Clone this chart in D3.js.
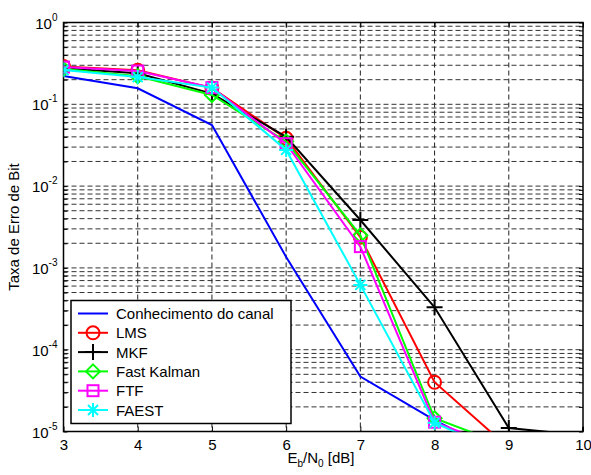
<!DOCTYPE html>
<html>
<head>
<meta charset="utf-8">
<script src="https://cdn.jsdelivr.net/npm/d3@7"></script>
<style>
  body { margin: 0; background: #fff; }
  text { font-family: "Liberation Sans", Arial, sans-serif; }
</style>
</head>
<body>
<div class="chart"></div>
<script>
const width = 591
const height = 475

// Eb/N0 in dB
const snr = [3, 4, 5, 6, 7, 8, 9, 10]

const canal = [0.222, 0.157, 0.0558, 1.36e-3, 4.7e-5, 1.38e-5, 4.7e-6, 2e-6]
const lms = [0.29, 0.26, 0.158, 0.0384, 2.37e-3, 4.0e-5, 6.3e-6, 3e-6]
const mkf = [0.275, 0.24, 0.135, 0.040, 3.85e-3, 3.3e-4, 1.1e-5, 9e-6]
const fastKalman = [0.27, 0.22, 0.13, 0.035, 2.5e-3, 1.45e-5, 6.6e-6, 3e-6]
const ftf = [0.285, 0.255, 0.16, 0.033, 1.82e-3, 1.3e-5, 5.9e-6, 3e-6]
const faest = [0.262, 0.215, 0.16, 0.0277, 6.2e-4, 1.28e-5, 5e-6, 2e-6]

const names = ["Conhecimento do canal", "LMS", "MKF", "Fast Kalman", "FTF", "FAEST"]
const colors = ["#0000ff", "#ff0000", "#000000", "#00ff00", "#ff00ff", "#00ffff"]
const markers = ["none", "circle", "plus", "diamond", "square", "star"]
const series = [canal, lms, mkf, fastKalman, ftf, faest]

const xTicks = [3, 4, 5, 6, 7, 8, 9, 10]
const yExp = [0, -1, -2, -3, -4, -5]

const margin = { top: 22.5, right: 8, left: 63.5, bottom: 43.5 }
const innerWidth = width - margin.left - margin.right
const innerHeight = height - margin.top - margin.bottom

const svg = d3.select(".chart")
    .append("svg")
    .attr("width", width)
    .attr("height", height)

const xScale = d3.scaleLinear()
    .domain([3, 10])
    .range([0, innerWidth])

const yScale = d3.scaleLog()
    .domain([1e-5, 1])
    .range([innerHeight, 0])

const g = svg.append("g")
    .attr("transform", `translate(${margin.left}, ${margin.top})`)

svg.append("defs").append("clipPath")
    .attr("id", "plot-clip")
  .append("rect")
    .attr("width", innerWidth)
    .attr("height", innerHeight)

// grid, minor y lines for every decade
let yGrid = []
for (let e = -5; e < 0; e++) {
    for (let m = 1; m < 10; m++) yGrid.push(m * Math.pow(10, e))
}

g.selectAll(".ygrid")
    .data(yGrid.filter(d => d > 1e-5))
    .enter().append("line")
        .attr("x1", 0)
        .attr("x2", innerWidth)
        .attr("y1", d => yScale(d))
        .attr("y2", d => yScale(d))
        .attr("stroke", "#333")
        .attr("stroke-width", 1)
        .attr("stroke-dasharray", "5,3")

g.selectAll(".xgrid")
    .data(xTicks.slice(1, -1))
    .enter().append("line")
        .attr("x1", d => xScale(d))
        .attr("x2", d => xScale(d))
        .attr("y1", 0)
        .attr("y2", innerHeight)
        .attr("stroke", "#222")
        .attr("stroke-width", 1)
        .attr("stroke-dasharray", "5,3")

// ticks inside box
const xAxis = d3.axisBottom(xScale).tickValues(xTicks).tickFormat(d3.format("d"))
    .tickSizeInner(-5).tickSizeOuter(0).tickPadding(8)
const xa = g.append("g")
    .attr("transform", `translate(0, ${innerHeight})`)
    .call(xAxis)
xa.select("path.domain").remove()
xa.attr("font-size", 15).attr("font-family", null)
xa.selectAll("text").attr("fill", "#000")
xa.selectAll("line").attr("stroke", "#000")

const xaTop = g.append("g").call(d3.axisTop(xScale).tickValues(xTicks).tickSizeInner(-5).tickSizeOuter(0))
xaTop.select("path.domain").remove()
xaTop.selectAll("text").remove()

const yLeft = g.append("g").call(d3.axisLeft(yScale).tickValues(yGrid.concat([1])).tickSizeInner(-4).tickSizeOuter(0))
yLeft.select("path.domain").remove()
yLeft.selectAll("text").remove()
const yRight = g.append("g").attr("transform", `translate(${innerWidth}, 0)`)
    .call(d3.axisRight(yScale).tickValues(yGrid.concat([1])).tickSizeInner(-4).tickSizeOuter(0))
yRight.select("path.domain").remove()
yRight.selectAll("text").remove()

// y tick labels 10^e
const yLab = g.selectAll(".ylab")
    .data(yExp)
    .enter().append("text")
        .attr("x", -6)
        .attr("y", d => yScale(Math.pow(10, d)) + 6)
        .attr("text-anchor", "end")
        .style("font-size", "15px")
yLab.append("tspan").text("10")
yLab.append("tspan")
    .attr("dy", -8)
    .style("font-size", "10px")
    .text(d => d)

// box
g.append("rect")
    .attr("width", innerWidth)
    .attr("height", innerHeight)
    .attr("fill", "none")
    .attr("stroke", "#000")
    .attr("stroke-width", 1.5)

// curves
const line = d3.line()
    .x((d, i) => xScale(snr[i]))
    .y(d => yScale(d))

const plot = g.append("g").attr("clip-path", "url(#plot-clip)")

function drawMarker(sel, type, color) {
    if (type === "circle") {
        sel.append("circle").attr("r", 6.5).attr("fill", "none").attr("stroke", color).attr("stroke-width", 2)
    } else if (type === "plus") {
        sel.append("path").attr("d", "M-8,0H8M0,-8V8").attr("stroke", color).attr("stroke-width", 2)
    } else if (type === "diamond") {
        sel.append("path").attr("d", "M0,-7L7,0L0,7L-7,0Z").attr("fill", "none").attr("stroke", color).attr("stroke-width", 2)
    } else if (type === "square") {
        sel.append("rect").attr("x", -5.5).attr("y", -5.5).attr("width", 11).attr("height", 11)
            .attr("fill", "none").attr("stroke", color).attr("stroke-width", 2)
    } else if (type === "star") {
        sel.append("path").attr("d", "M-7,0H7M0,-7V7M-5,-5L5,5M-5,5L5,-5").attr("stroke", color).attr("stroke-width", 2)
    }
}

series.forEach((vals, k) => {
    plot.append("path")
        .datum(vals)
        .attr("d", line)
        .attr("fill", "none")
        .attr("stroke", colors[k])
        .attr("stroke-width", 2)
    if (markers[k] !== "none") {
        vals.forEach((v, i) => {
            const m = plot.append("g")
                .attr("transform", `translate(${xScale(snr[i])}, ${yScale(v)})`)
            drawMarker(m, markers[k], colors[k])
        })
    }
})

// legend
const legend = svg.append("g").attr("transform", "translate(71, 300.5)")
legend.append("rect")
    .attr("width", 220)
    .attr("height", 123)
    .attr("fill", "#fff")
    .attr("stroke", "#000")
    .attr("stroke-width", 1.5)

names.forEach((name, k) => {
    const row = legend.append("g").attr("transform", `translate(0, ${13 + k * 19.3})`)
    row.append("line")
        .attr("x1", 7).attr("x2", 37)
        .attr("stroke", colors[k]).attr("stroke-width", 2)
    const m = row.append("g").attr("transform", "translate(22, 0)")
    drawMarker(m, markers[k], colors[k])
    row.append("text")
        .attr("x", 45)
        .attr("y", 5.5)
        .style("font-size", "15px")
        .text(name)
})

// axis labels
const xLabel = svg.append("text")
    .attr("x", 321)
    .attr("y", 463)
    .attr("text-anchor", "middle")
    .style("font-size", "15px")
xLabel.append("tspan").text("E")
xLabel.append("tspan").attr("dy", 4).style("font-size", "10px").text("b")
xLabel.append("tspan").attr("dy", -4).text("/N")
xLabel.append("tspan").attr("dy", 4).style("font-size", "10px").text("0")
xLabel.append("tspan").attr("dy", -4).text(" [dB]")

svg.append("text")
    .attr("transform", `translate(19, ${margin.top + innerHeight / 2}) rotate(-90)`)
    .attr("text-anchor", "middle")
    .style("font-size", "15px")
    .text("Taxa de Erro de Bit")
</script>
</body>
</html>
